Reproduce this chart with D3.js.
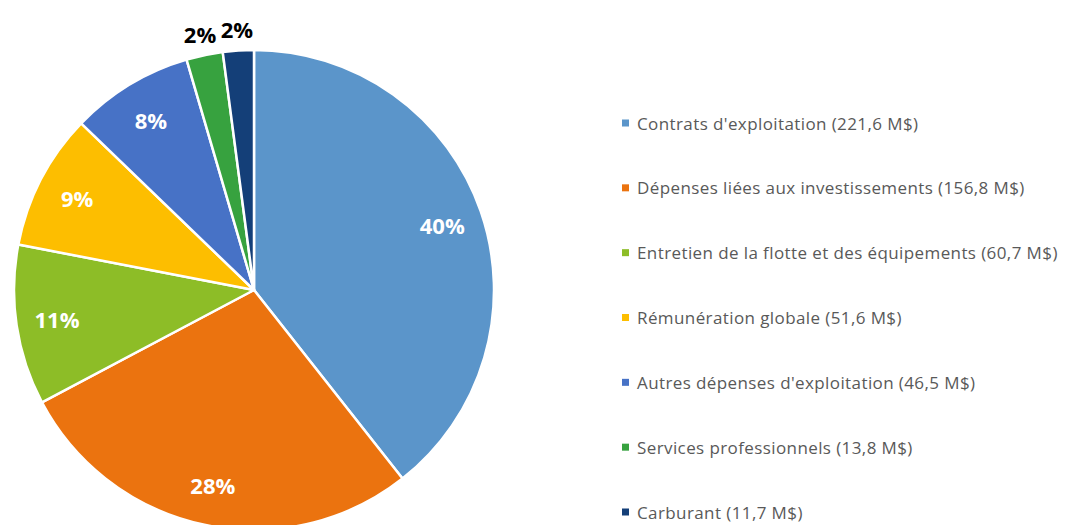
<!DOCTYPE html>
<html><head><meta charset="utf-8">
<script src="https://cdn.jsdelivr.net/npm/d3@7"></script>
<style>body{margin:0;background:#fff}svg{display:block}</style>
</head><body>
<svg id="c" width="1065" height="525"></svg>
<script>
const categories = ["Contrats d'exploitation","Dépenses liées aux investissements","Entretien de la flotte et des équipements","Rémunération globale","Autres dépenses d'exploitation","Services professionnels","Carburant"];
const values = [221.6,156.8,60.7,51.6,46.5,13.8,11.7];
const valueLabels = ["221,6","156,8","60,7","51,6","46,5","13,8","11,7"];
const percentLabels = ["40%","28%","11%","9%","8%","2%","2%"];
const colors = ["#5b95ca","#eb730f","#8dbd27","#fdbe00","#4772c6","#37a23f","#143f78"];

const svg = d3.select("#c");
const cx = 254, cy = 290, R = 240;
const g = svg.append("g").attr("transform",`translate(${cx},${cy})`);
const pie = d3.pie().sort(null).value(d=>d);
const arcs = pie(values);
const arc = d3.arc().innerRadius(0).outerRadius(R);
g.selectAll("path").data(arcs).enter().append("path")
  .attr("d",arc).attr("fill",(d,i)=>colors[i])
  .attr("stroke","#fff").attr("stroke-width",2.5).attr("stroke-linejoin","round");

const inLab = d3.arc().innerRadius(R*0.83).outerRadius(R*0.83);
const outLab = d3.arc().innerRadius(R*1.09).outerRadius(R*1.09);
g.selectAll("text.pl").data(arcs).enter().append("text")
  .attr("class","pl")
  .attr("transform",(d,i)=>{const p=(i>=5?outLab:inLab).centroid(d);return `translate(${p[0]},${p[1]})`;})
  .attr("text-anchor","middle").attr("dominant-baseline","central")
  .attr("font-family","'Open Sans', sans-serif").attr("font-weight","bold").attr("font-size",22)
  .attr("fill",(d,i)=>i>=5?"#000":"#fff")
  .text((d,i)=>percentLabels[i]);

const ly = d3.scalePoint().domain(categories).range([123,512]);
const leg = svg.append("g");
const items = leg.selectAll("g").data(categories).enter().append("g")
  .attr("transform",d=>`translate(622,${ly(d)})`);
items.append("rect").attr("x",0).attr("y",-3.5).attr("width",7).attr("height",7).attr("fill",(d,i)=>colors[i]);
items.append("text").attr("x",15).attr("y",0).attr("dominant-baseline","central")
  .attr("font-family","'Open Sans', sans-serif").attr("font-size",17).attr("letter-spacing",0.4).attr("fill","#595959")
  .text((d,i)=>`${d} (${valueLabels[i]} M$)`);
</script>
</body></html>
